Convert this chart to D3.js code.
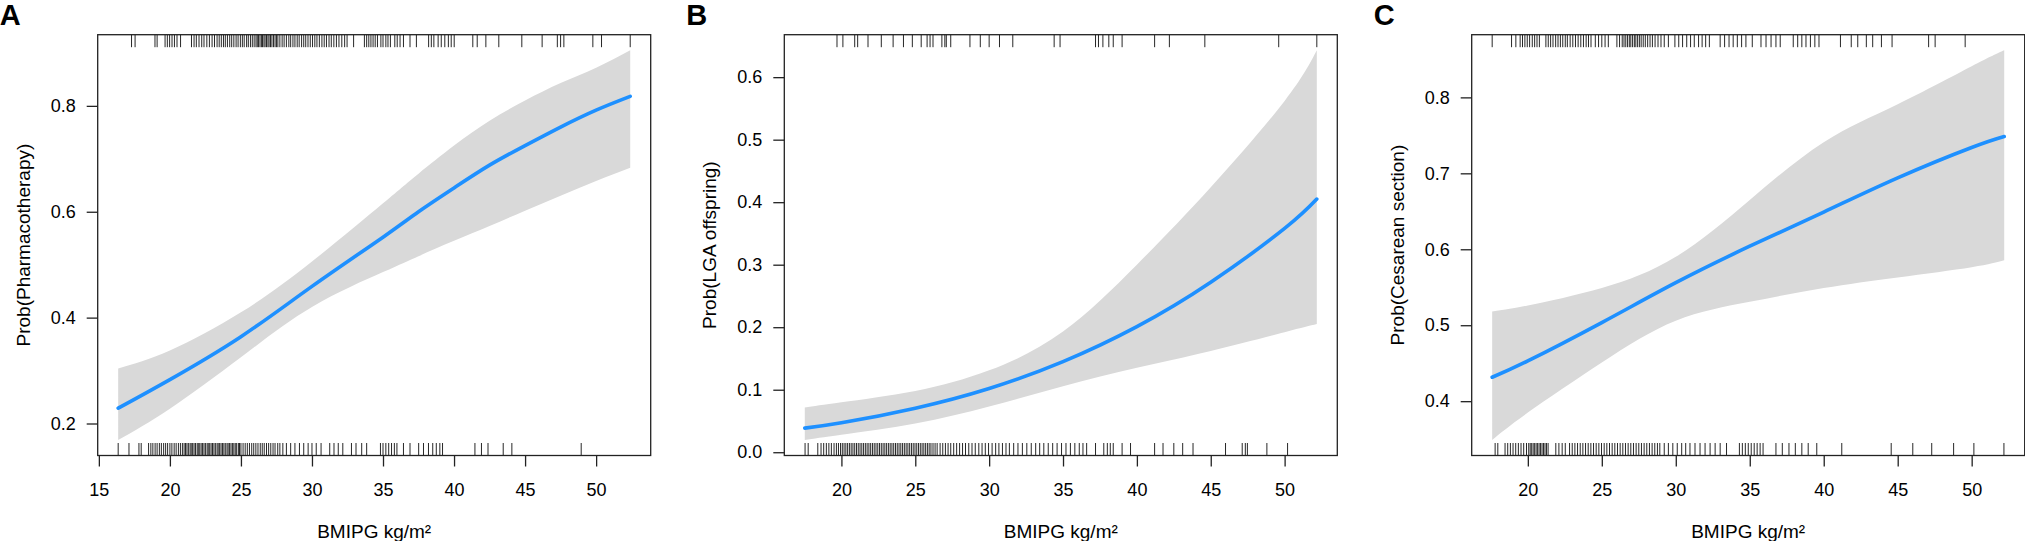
<!DOCTYPE html>
<html>
<head>
<meta charset="utf-8">
<script src="https://cdn.jsdelivr.net/npm/d3@7"></script>
<style>
  body { margin: 0; background: #fff; }
  svg text { font-family: "Liberation Sans", Arial, sans-serif; fill: #000; }
</style>
</head>
<body>
<script>
// ---- data ----
var panelLetters = ["A", "B", "C"];
var yTitles = ["Prob(Pharmacotherapy)", "Prob(LGA offspring)", "Prob(Cesarean section)"];
var xTitle = "BMIPG kg/m\u00B2";

var xTicksA = [15, 20, 25, 30, 35, 40, 45, 50];
var xTicksB = [20, 25, 30, 35, 40, 45, 50];
var xTicksC = [20, 25, 30, 35, 40, 45, 50];
var yTicksA = [0.2, 0.4, 0.6, 0.8];
var yTicksB = [0.0, 0.1, 0.2, 0.3, 0.4, 0.5, 0.6];
var yTicksC = [0.4, 0.5, 0.6, 0.7, 0.8];

// BMI values where fit / CI were read
var bmiA = [16.36, 20, 25, 30, 35, 37.5, 40, 42.5, 45, 47.5, 50, 52.4];
var fitA = [0.229, 0.283, 0.364, 0.459, 0.552, 0.600, 0.645, 0.688, 0.725, 0.760, 0.792, 0.818];
var upperA = [0.304, 0.338, 0.410, 0.506, 0.616, 0.672, 0.725, 0.772, 0.810, 0.843, 0.872, 0.905];
var lowerA = [0.169, 0.228, 0.325, 0.420, 0.486, 0.516, 0.545, 0.573, 0.602, 0.630, 0.658, 0.683];

var bmiB = [17.52, 20, 25, 30, 35, 40, 45, 50, 52.18];
var fitB = [0.0385, 0.047, 0.0705, 0.102, 0.145, 0.201, 0.272, 0.358, 0.405];
var upperB = [0.0715, 0.080, 0.098, 0.131, 0.193, 0.300, 0.424, 0.562, 0.643];
var lowerB = [0.0197, 0.028, 0.046, 0.073, 0.1055, 0.135, 0.162, 0.192, 0.205];

var bmiC = [17.59, 20, 25, 30, 35, 40, 45, 50, 52.2];
var fitC = [0.4315, 0.453, 0.5035, 0.556, 0.604, 0.649, 0.694, 0.734, 0.7485];
var upperC = [0.518, 0.526, 0.549, 0.590, 0.665, 0.741, 0.791, 0.841, 0.862];
var lowerC = [0.349, 0.385, 0.451, 0.506, 0.531, 0.549, 0.563, 0.5765, 0.5856];

// rug: BMI of cases with outcome = 1 (top) and outcome = 0 (bottom)
var rugTopA = [17.3, 17.55, 18.95, 19.1, 19.66, 19.82, 19.98, 20.15, 20.32, 20.5, 20.75,
  21.52, 21.7, 21.86, 22.05, 22.24, 22.4, 22.6, 22.78, 22.97, 23.14, 23.32,
  23.47, 23.62, 23.77, 23.9, 24.05, 24.21, 24.35, 24.5, 24.66, 24.8, 24.96, 25.1, 25.23, 25.4,
  25.52, 25.67, 25.8, 25.93, 26.06, 26.15, 26.24, 26.34, 26.44, 26.52, 26.62, 26.7, 26.8, 26.9,
  26.98, 27.08, 27.18, 27.29, 27.4, 27.5, 27.6, 27.74, 27.9, 28.04, 28.2, 28.37, 28.5, 28.66,
  28.8, 28.96, 29.1, 29.27, 29.42, 29.56, 29.72, 29.88, 30.04, 30.2, 30.35, 30.52, 30.7, 30.86,
  31.02, 31.2, 31.36, 31.54, 31.72, 31.9, 32.1, 32.3, 32.47,
  32.93, 33.69, 33.85, 34.0, 34.15, 34.3, 34.45, 34.61, 34.85, 35.0, 35.2, 35.35, 35.52,
  35.83, 36.0, 36.2, 36.44, 36.9, 37.35, 38.21, 38.4, 38.58, 38.88, 39.1, 39.35, 39.6, 39.8,
  40.01, 41.32, 41.63, 42.24, 43.15, 44.77, 46.2, 47.27, 47.5, 47.73, 49.77, 50.38, 52.4];
var rugBottomA = [16.36, 17.12, 17.82, 17.98,
  18.5, 18.66, 18.8, 18.96, 19.1, 19.26, 19.4, 19.56, 19.7, 19.84, 20.0, 20.14, 20.3, 20.44, 20.6, 20.74, 20.88,
  21.0, 21.1, 21.2, 21.3, 21.42, 21.5, 21.6, 21.7, 21.8, 21.92, 22.0, 22.1, 22.2, 22.3, 22.4, 22.5,
  22.62, 22.7, 22.8, 22.9, 23.0, 23.1, 23.2, 23.32, 23.4, 23.5, 23.6, 23.7, 23.8, 23.9, 24.02, 24.1,
  24.2, 24.3, 24.4, 24.5, 24.6, 24.7, 24.82, 24.9, 25.0, 25.15,
  25.3, 25.45, 25.6, 25.76, 25.9, 26.05, 26.2, 26.36, 26.5, 26.64, 26.8, 26.95, 27.1, 27.26, 27.4, 27.59,
  27.74, 27.95, 28.2, 28.5, 28.8, 29.12, 29.42, 29.73, 30.0, 30.3, 30.64, 31.25, 31.55, 31.85, 32.17,
  32.78, 33.1, 33.5, 33.85, 34.82, 35.0, 35.2, 35.4, 35.6, 35.8, 35.98, 36.44, 36.9, 37.51, 37.85,
  38.2, 38.5, 38.75, 39.0, 39.19, 41.47, 41.93, 42.39, 43.46, 44.07, 48.95];

var rugTopB = [19.7, 20.1, 20.9, 21.1, 21.8, 22.7, 23.5, 24.2, 24.8, 25.4, 25.8, 26.0, 26.2,
  26.8, 27.0, 27.1, 27.4, 28.7, 29.4, 30.0, 30.7, 31.6, 34.4, 34.8, 37.2, 37.4, 37.7, 38.1, 38.4,
  39.0, 41.2, 42.2, 44.6, 49.6, 52.18];
var rugBottomB = [17.54, 17.75, 18.4, 18.62, 18.8, 18.98, 19.15, 19.32, 19.5, 19.66, 19.8,
  19.94, 20.06, 20.18, 20.3, 20.42, 20.54, 20.66, 20.78, 20.9, 21.02, 21.14, 21.26, 21.38, 21.5,
  21.62, 21.74, 21.86, 21.98, 22.1, 22.22, 22.34, 22.46, 22.58, 22.7, 22.82, 22.94, 23.06, 23.18,
  23.3, 23.42, 23.54, 23.66, 23.78, 23.9, 24.02, 24.14, 24.26, 24.38, 24.5, 24.62, 24.74, 24.86,
  24.98, 25.1, 25.22, 25.34, 25.46, 25.58, 25.7, 25.82, 25.94, 26.06, 26.2, 26.34, 26.48, 26.68,
  26.86, 27.04, 27.22, 27.4, 27.6, 27.8, 28.0, 28.2, 28.4, 28.62, 28.84, 29.06, 29.3, 29.52,
  29.74, 29.96, 30.2, 30.44, 30.66, 30.9, 31.14, 31.37, 31.66, 31.95, 32.25, 32.55, 32.85, 33.15,
  33.42, 33.7, 34.0, 34.3, 34.6, 34.9, 35.2, 35.5, 35.8, 36.1, 36.35, 36.6, 37.2, 37.76, 38.0,
  38.2, 38.4, 39.0, 39.57, 41.2, 41.77, 42.5, 43.1, 43.8, 46.0, 47.13, 47.34, 47.48, 48.8, 50.2];

var rugTopC = [17.59, 18.9, 19.19, 19.48, 19.64, 19.8, 19.96, 20.12, 20.3, 20.46, 20.62, 20.78,
  21.22, 21.38, 21.54, 21.7, 21.88, 22.04, 22.2, 22.36, 22.53, 22.67, 22.86, 23.04, 23.22, 23.4,
  23.58, 23.76, 23.94, 24.1, 24.27, 24.56, 24.78, 25.0, 25.22, 25.44, 26.02, 26.2, 26.38, 26.5,
  26.62, 26.74, 26.86, 26.96, 27.08, 27.2, 27.3, 27.42, 27.54, 27.66, 27.8, 27.94, 28.1, 28.26,
  28.42, 28.6, 28.8, 29.0, 29.22, 29.5, 29.94, 30.2, 30.46, 30.74, 31.0, 31.25, 31.54, 31.78,
  32.02, 32.27, 33.0, 33.3, 33.6, 33.88, 34.16, 34.45, 34.74, 35.17, 35.76, 36.1, 36.44, 36.77,
  37.06, 37.94, 38.24, 38.52, 38.8, 39.1, 39.4, 39.68, 41.13, 41.86, 42.3, 42.88, 43.31, 43.9,
  44.62, 47.09, 47.53, 49.56];
var rugBottomC = [17.79, 17.97, 18.46, 18.64, 18.82, 19.0, 19.18, 19.36, 19.54, 19.72, 19.91,
  20.06, 20.16, 20.26, 20.36, 20.46, 20.56, 20.66, 20.76, 20.86, 20.96, 21.06, 21.16, 21.26, 21.37,
  21.89, 22.1, 22.32, 22.53, 22.82, 23.0, 23.18, 23.36, 23.54, 23.72, 23.9, 24.08, 24.26, 24.44,
  24.62, 24.8, 24.98, 25.16, 25.34, 25.52, 25.7, 25.88, 26.06, 26.24, 26.42, 26.6, 26.78, 26.96,
  27.14, 27.32, 27.5, 27.68, 27.86, 28.04, 28.22, 28.4, 28.58, 28.76, 28.92, 29.22, 29.5, 29.8,
  30.1, 30.4, 30.67, 30.96, 31.3, 31.64, 31.98, 32.32, 32.66, 33.0, 33.43, 34.3, 34.5, 34.7,
  34.9, 35.1, 35.3, 35.5, 35.7, 35.9, 36.77, 37.2, 37.65, 38.08, 38.52, 38.95, 39.53, 41.22,
  44.56, 46.02, 47.3, 48.78, 50.15, 52.18];

// ---- layout ----
var width = 2025;
var height = 541;
var boxLefts = [97.7, 784.3, 1471.7];
var boxWidth = 553;
var boxTop = 34.7;
var boxBottom = 455.5;
var rugLen = 12.5;

var svg = d3.select("body").append("svg")
  .attr("width", width)
  .attr("height", height);

// R style: pad the data range by 4% on each side
function padRange(lo, hi) {
  var ext = (hi - lo) * 0.04;
  return [lo - ext, hi + ext];
}

var panels = [
  { bmi: bmiA, fit: fitA, upper: upperA, lower: lowerA, xTicks: xTicksA, yTicks: yTicksA, rugTop: rugTopA, rugBottom: rugBottomA },
  { bmi: bmiB, fit: fitB, upper: upperB, lower: lowerB, xTicks: xTicksB, yTicks: yTicksB, rugTop: rugTopB, rugBottom: rugBottomB },
  { bmi: bmiC, fit: fitC, upper: upperC, lower: lowerC, xTicks: xTicksC, yTicks: yTicksC, rugTop: rugTopC, rugBottom: rugBottomC }
];

function drawRug(g, values, x, y1, y2) {
  g.append("g").selectAll("line")
    .data(values)
    .enter().append("line")
    .attr("x1", function(d) { return x(d); })
    .attr("x2", function(d) { return x(d); })
    .attr("y1", y1)
    .attr("y2", y2)
    .attr("stroke", "#000")
    .attr("stroke-opacity", 0.85)
    .attr("stroke-width", 1);
}

panels.forEach(function(p, i) {
  var left = boxLefts[i];
  var right = left + boxWidth;

  var x = d3.scaleLinear()
    .domain(padRange(d3.min(p.bmi), d3.max(p.bmi)))
    .range([left, right]);
  var y = d3.scaleLinear()
    .domain(padRange(d3.min(p.lower), d3.max(p.upper)))
    .range([boxBottom, boxTop]);

  var rows = p.bmi.map(function(b, k) {
    return { bmi: b, fit: p.fit[k], upper: p.upper[k], lower: p.lower[k] };
  });

  var g = svg.append("g").attr("class", "panel");

  // confidence band
  g.append("path")
    .datum(rows)
    .attr("fill", "#d9d9d9")
    .attr("stroke", "none")
    .attr("d", d3.area()
      .curve(d3.curveNatural)
      .x(function(d) { return x(d.bmi); })
      .y0(function(d) { return y(d.lower); })
      .y1(function(d) { return y(d.upper); }));

  // fitted probability
  g.append("path")
    .datum(rows)
    .attr("fill", "none")
    .attr("stroke", "#1e90ff")
    .attr("stroke-width", 3.6)
    .attr("stroke-linecap", "round")
    .attr("d", d3.line()
      .curve(d3.curveNatural)
      .x(function(d) { return x(d.bmi); })
      .y(function(d) { return y(d.fit); }));

  drawRug(g, p.rugTop, x, boxTop, boxTop + rugLen);
  drawRug(g, p.rugBottom, x, boxBottom - rugLen, boxBottom);

  // frame
  g.append("rect")
    .attr("x", left)
    .attr("y", boxTop)
    .attr("width", boxWidth)
    .attr("height", boxBottom - boxTop)
    .attr("fill", "none")
    .attr("stroke", "#222")
    .attr("stroke-width", 1.3);

  // axes
  var xAxis = g.append("g")
    .attr("transform", "translate(0," + boxBottom + ")")
    .call(d3.axisBottom(x).tickValues(p.xTicks).tickSize(11).tickPadding(17)
      .tickFormat(d3.format("d")));
  var yAxis = g.append("g")
    .attr("transform", "translate(" + left + ",0)")
    .call(d3.axisLeft(y).tickValues(p.yTicks).tickSize(11).tickPadding(11)
      .tickFormat(d3.format(".1f")));

  [xAxis, yAxis].forEach(function(ax) {
    ax.select(".domain").remove();
    ax.selectAll(".tick line").attr("stroke", "#222").attr("stroke-width", 1.3);
    ax.selectAll(".tick text").style("font-size", "18px").attr("fill", "#000");
  });

  // titles
  g.append("text")
    .attr("x", (left + right) / 2)
    .attr("y", 538.3)
    .attr("text-anchor", "middle")
    .style("font-size", "19px")
    .text(xTitle);

  g.append("text")
    .attr("transform", "translate(" + (left - 68) + "," + ((boxTop + boxBottom) / 2) + ") rotate(-90)")
    .attr("text-anchor", "middle")
    .style("font-size", "19px")
    .text(yTitles[i]);

  g.append("text")
    .attr("x", left - 98)
    .attr("y", 25)
    .style("font-size", "29px")
    .style("font-weight", "bold")
    .text(panelLetters[i]);
});
</script>
</body>
</html>
